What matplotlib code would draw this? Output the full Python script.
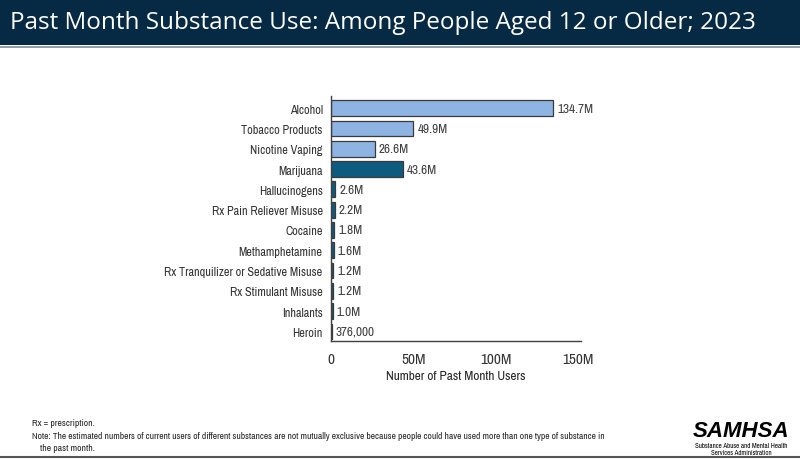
import matplotlib
matplotlib.use("Agg")
import matplotlib.pyplot as plt
from matplotlib.patches import Rectangle
from matplotlib.lines import Line2D

# data
substances = ["Alcohol", "Tobacco Products", "Nicotine Vaping", "Marijuana",
              "Hallucinogens", "Rx Pain Reliever Misuse", "Cocaine",
              "Methamphetamine", "Rx Tranquilizer or Sedative Misuse",
              "Rx Stimulant Misuse", "Inhalants", "Heroin"]
users_millions = [134.7, 49.9, 26.6, 43.6, 2.6, 2.2, 1.8, 1.6, 1.2, 1.2, 1.0, 0.376]
value_labels = ["134.7M", "49.9M", "26.6M", "43.6M", "2.6M", "2.2M", "1.8M",
                "1.6M", "1.2M", "1.2M", "1.0M", "376,000"]
is_legal = [True, True, True, False, False, False, False, False, False, False, False, False]
x_ticks = [0, 50, 100, 150]
x_ticklabels = ["0", "50M", "100M", "150M"]

LIGHT = "#8db4e2"
DARK = "#0d5c7f"
NAVY = "#062a43"
NARROW = ["Liberation Sans Narrow", "Archivo Narrow", "Liberation Sans", "DejaVu Sans"]

plt.rcParams['font.family'] = NARROW

fig = plt.figure(figsize=(8, 4.6), dpi=100)
fig.patch.set_facecolor("white")

# header band
fig.patches.append(Rectangle((0, 1 - 46 / 460), 1, 46 / 460, transform=fig.transFigure,
                             facecolor=NAVY, edgecolor="none", zorder=0))
fig.lines.append(Line2D([0, 1], [1 - 47.5 / 460] * 2, transform=fig.transFigure,
                        color="#7f8b95", lw=1.2))
fig.text(10 / 800, 1 - 23 / 460, "Past Month Substance Use: Among People Aged 12 or Older; 2023",
         color="white", fontsize=17.5, va="center", ha="left",
         family=["Open Sans", "DejaVu Sans"])

ax = fig.add_axes([331 / 800, 1 - 342 / 460, 250.3 / 800, 245 / 460])
colors = [LIGHT if lg else DARK for lg in is_legal]
ypos = list(range(len(substances)))
ax.barh(ypos, users_millions, height=0.78, color=colors, edgecolor="#3a3a3a", linewidth=0.9)
for y, v, lab in zip(ypos, users_millions, value_labels):
    ax.text(v + 2.5, y, lab, va="center", ha="left", fontsize=9.5, color="#404040")

ax.set_xlim(0, 152)
ax.set_ylim(11.47, -0.6)
ax.set_yticks(ypos)
ax.set_yticklabels(substances, fontsize=8.8, color="#333333")
ax.set_xticks(x_ticks)
ax.set_xticklabels(x_ticklabels, fontsize=11, color="#333333")
ax.tick_params(axis="both", length=0, pad=6)
ax.tick_params(axis="x", pad=8)
ax.set_xlabel("Number of Past Month Users", fontsize=9.5, color="#262626", labelpad=3)
for s in ["top", "right"]:
    ax.spines[s].set_visible(False)
for s in ["left", "bottom"]:
    ax.spines[s].set_color("#404040")
    ax.spines[s].set_linewidth(1.0)

# footnotes
fig.text(32 / 800, 1 - 424 / 460, "Rx = prescription.", fontsize=6.9, va="center", color="#262626")
fig.text(32 / 800, 1 - 437 / 460,
         "Note: The estimated numbers of current users of different substances are not mutually "
         "exclusive because people could have used more than one type of substance in",
         fontsize=6.8, va="center", color="#262626")
fig.text(40 / 800, 1 - 449 / 460, "the past month.", fontsize=6.9, va="center", color="#262626")

# logo text
fig.text(741 / 800, 1 - 437.5 / 460, "SAMHSA", fontsize=16, fontweight="bold", fontstyle="italic",
         ha="center", va="baseline", color="black",
         family=["Liberation Sans", "DejaVu Sans"])
fig.text(741 / 800, 1 - 446.5 / 460, "Substance Abuse and Mental Health", fontsize=5,
         ha="center", va="center", color="black")
fig.text(741 / 800, 1 - 453 / 460, "Services Administration", fontsize=5,
         ha="center", va="center", color="black")

fig.lines.append(Line2D([0, 1], [1 - 457.5 / 460] * 2, transform=fig.transFigure,
                        color="#555555", lw=1.5))

fig.savefig("out.png", dpi=100)
